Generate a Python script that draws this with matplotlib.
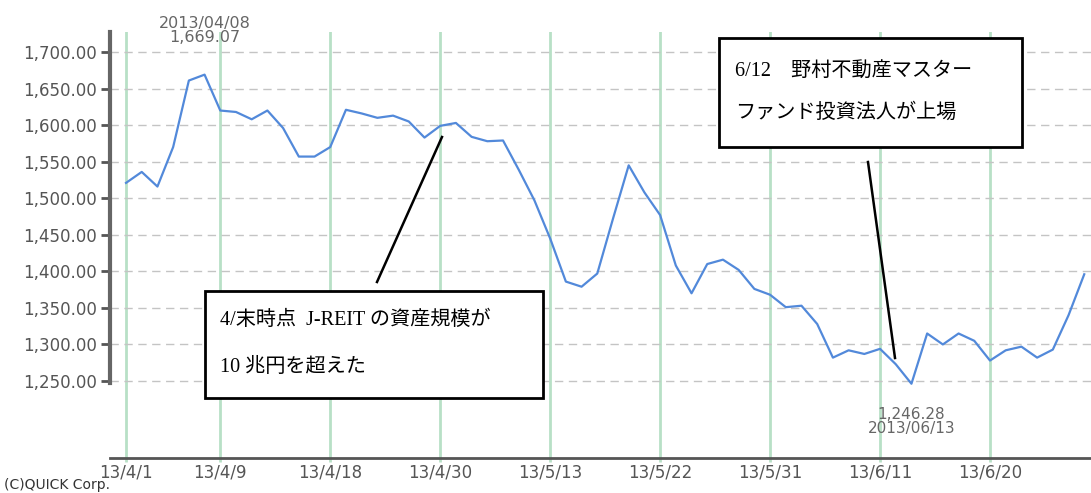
import matplotlib
matplotlib.use("Agg")
import matplotlib.pyplot as plt
from matplotlib.patches import Rectangle
from matplotlib.lines import Line2D

W, H = 1091, 493

# trading days, April - June 2013
dates = [
    "4/1", "4/2", "4/3", "4/4", "4/5", "4/8", "4/9", "4/10", "4/11", "4/12",
    "4/15", "4/16", "4/17", "4/18", "4/19", "4/22", "4/23", "4/24", "4/25", "4/26",
    "4/30", "5/1", "5/2", "5/7", "5/8", "5/9", "5/10", "5/13", "5/14", "5/15",
    "5/16", "5/17", "5/20", "5/21", "5/22", "5/23", "5/24", "5/27", "5/28", "5/29",
    "5/30", "5/31", "6/3", "6/4", "6/5", "6/6", "6/7", "6/10", "6/11", "6/12",
    "6/13", "6/14", "6/17", "6/18", "6/19", "6/20", "6/21", "6/24", "6/25", "6/26",
    "6/27", "6/28",
]
values = [
    1521, 1536, 1516, 1570, 1661, 1669.07, 1620, 1618, 1608, 1620,
    1596, 1557, 1557, 1570, 1621, 1616, 1610, 1613, 1605, 1583,
    1599, 1603, 1584, 1578, 1579, 1539, 1497, 1445, 1386, 1379,
    1397, 1472, 1545, 1508, 1477, 1408, 1370, 1410, 1416, 1402,
    1376, 1368, 1351, 1353, 1328, 1282, 1292, 1287, 1294, 1273,
    1246.28, 1315, 1300, 1315, 1305, 1278, 1292, 1297, 1282, 1293,
    1340, 1396,
]
tick_dates = ["4/1", "4/9", "4/18", "4/30", "5/13", "5/22", "5/31", "6/11", "6/20"]
tick_labels = ["13/" + d for d in tick_dates]
y_ticks = [1250, 1300, 1350, 1400, 1450, 1500, 1550, 1600, 1650, 1700]

note1 = "4/末時点  J-REIT の資産規模が"
note1b = "10 兆円を超えた"
note2 = "6/12\u3000野村不動産マスター"
note2b = "ファンド投資法人が上場"

def fx(px):
    return px / W

def fy(py):
    return 1 - py / H

fig = plt.figure(figsize=(W / 100, H / 100), dpi=100)
ax = fig.add_axes([fx(110), fy(458), fx(1091) - fx(110), fy(32) - fy(458)])

x = list(range(len(values)))
tick_pos = [dates.index(d) for d in tick_dates]

for p in tick_pos:
    ax.axvline(p, color="#b8e0c6", lw=2, zorder=1)
for v in y_ticks:
    ax.axhline(v, color="#c4c4c4", lw=1, ls=(0, (6, 4)), zorder=1)

ax.plot(x, values, color="#5289da", lw=1.6, zorder=3)

ax.set_xlim(-1.02, 61.43)
ax.set_ylim(1144.7, 1727.4)

ax.set_yticks(y_ticks)
ax.set_yticklabels([f"{v:,.2f}" for v in y_ticks])
ax.set_xticks(tick_pos)
ax.set_xticklabels(tick_labels)
ax.tick_params(axis="y", length=6.5, width=2, color="#555555", pad=3,
               labelsize=12, labelcolor="#555555")
ax.tick_params(axis="x", length=3, width=2, color="#b8e0c6", pad=1,
               labelsize=12, labelcolor="#555555")

for s in ["top", "right"]:
    ax.spines[s].set_visible(False)
ax.spines["left"].set_linewidth(3)
ax.spines["left"].set_color("#666666")
ax.spines["left"].set_bounds(1247, 1727.4)
ax.spines["bottom"].set_linewidth(2)
ax.spines["bottom"].set_color("#555555")

# max / min labels
imax = values.index(max(values))
imin = values.index(min(values))
ax.annotate(f"{max(values):,.2f}", xy=(imax, max(values)), xytext=(0, 27),
            textcoords="offset points", ha="center", va="center",
            fontsize=11.5, color="#666666", annotation_clip=False)
ax.annotate("2013/04/08", xy=(imax, max(values)), xytext=(0, 37),
            textcoords="offset points", ha="center", va="center",
            fontsize=11.5, color="#666666", annotation_clip=False)
ax.annotate(f"{min(values):,.2f}", xy=(imin, min(values)), xytext=(0, -22),
            textcoords="offset points", ha="center", va="center",
            fontsize=11, color="#666666")
ax.annotate("2013/06/13", xy=(imin, min(values)), xytext=(0, -32.5),
            textcoords="offset points", ha="center", va="center",
            fontsize=11, color="#666666")

# callout boxes
jp = ["Liberation Serif", "Noto Sans CJK JP"]
for (x0, y0, x1, y1) in [(205, 291, 543, 398), (719, 38, 1022, 147)]:
    fig.patches.append(Rectangle((fx(x0), fy(y1)), fx(x1) - fx(x0), fy(y0) - fy(y1),
                                 transform=fig.transFigure, fill=True, fc="white",
                                 ec="black", lw=2, zorder=5))
fig.text(fx(220), fy(320), note1, family=jp, fontsize=14.5, va="center", zorder=6)
fig.text(fx(220), fy(367), note1b, family=jp, fontsize=14.5, va="center", zorder=6)
fig.text(fx(735), fy(72), note2, family=jp, fontsize=14.5, va="center", zorder=6)
fig.text(fx(735), fy(113), note2b, family=jp, fontsize=14.5, va="center", zorder=6)

fig.lines.append(Line2D([fx(377), fx(442)], [fy(282), fy(137)],
                        transform=fig.transFigure, color="black", lw=1.8, zorder=4))
fig.lines.append(Line2D([fx(868), fx(895)], [fy(162), fy(358)],
                        transform=fig.transFigure, color="black", lw=1.8, zorder=4))

fig.text(fx(4), fy(492), "(C)QUICK Corp.", fontsize=10, color="#333333", va="bottom")

fig.savefig("out.png", dpi=100)
